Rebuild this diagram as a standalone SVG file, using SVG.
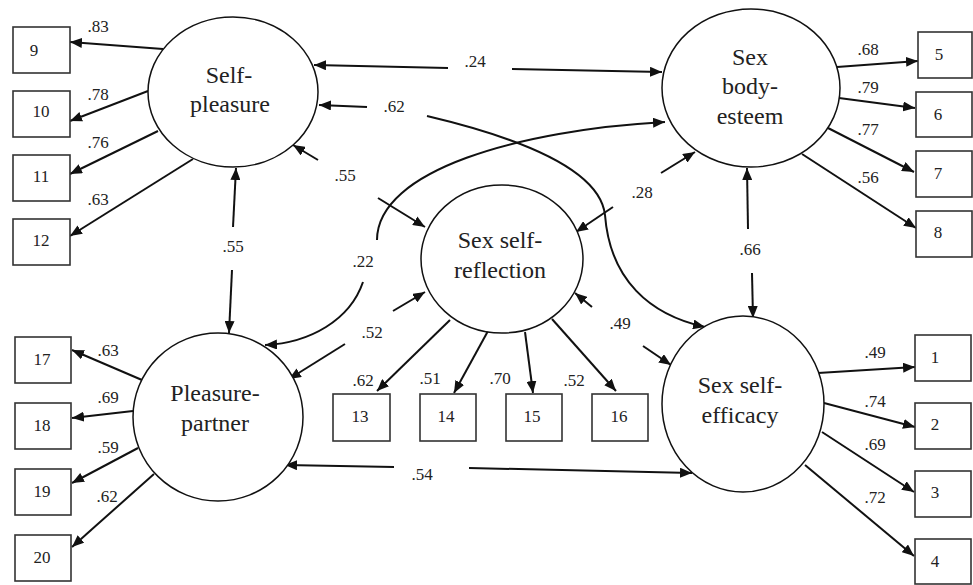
<svg xmlns="http://www.w3.org/2000/svg" width="973" height="585" viewBox="0 0 973 585">
<defs>
<marker id="ah" markerWidth="12" markerHeight="10" refX="12" refY="5" orient="auto" markerUnits="userSpaceOnUse"><path d="M0,0 L12,5 L0,10 z" fill="#111"/></marker>
</defs>
<rect width="973" height="585" fill="#fff"/>

<g id="connectors">
<g fill="none" stroke="#111" stroke-width="2" marker-end="url(#ah)">
<line x1="163" y1="49" x2="70" y2="42"/>
<line x1="148" y1="91" x2="70" y2="121"/>
<line x1="158" y1="131" x2="70" y2="174"/>
<line x1="193" y1="159" x2="70" y2="236"/>
<line x1="142" y1="380" x2="72" y2="350"/>
<line x1="133" y1="411" x2="72" y2="418"/>
<line x1="138" y1="448" x2="72" y2="483"/>
<line x1="154" y1="474" x2="72" y2="547"/>
<line x1="837" y1="67" x2="918" y2="61"/>
<line x1="839" y1="98" x2="915" y2="108"/>
<line x1="828" y1="128" x2="914" y2="172"/>
<line x1="802" y1="154" x2="916" y2="228"/>
<line x1="818" y1="373" x2="915" y2="367"/>
<line x1="824" y1="403" x2="915" y2="427"/>
<line x1="822" y1="432" x2="914" y2="492"/>
<line x1="805" y1="465" x2="914" y2="556"/>
<line x1="450" y1="320" x2="377" y2="391"/>
<line x1="488" y1="331" x2="454" y2="393"/>
<line x1="525" y1="332" x2="533" y2="393"/>
<line x1="552" y1="319" x2="616" y2="391"/>
<line x1="448" y1="68" x2="314" y2="65"/>
<line x1="512" y1="69" x2="662" y2="72"/>
<line x1="367" y1="107" x2="319" y2="105"/>
<path d="M427,116 C520,138 600,170 605,215 C610,280 650,315 705,327"/>
<line x1="233" y1="227" x2="236" y2="168"/>
<line x1="232" y1="270" x2="229" y2="333"/>
<line x1="318" y1="160" x2="293" y2="145"/>
<line x1="378" y1="198" x2="425" y2="227"/>
<path d="M377,240 C377,170 520,130 665,122"/>
<path d="M363,282 C350,320 310,343 265,345"/>
<line x1="345" y1="344" x2="289" y2="379"/>
<line x1="393" y1="311" x2="425" y2="292"/>
<line x1="661" y1="173" x2="695" y2="152"/>
<line x1="613" y1="207" x2="576" y2="232"/>
<line x1="748" y1="229" x2="747" y2="168"/>
<line x1="752" y1="273" x2="753" y2="318"/>
<line x1="592" y1="307" x2="575" y2="293"/>
<line x1="643" y1="346" x2="671" y2="365"/>
<line x1="394" y1="467" x2="285" y2="465"/>
<line x1="469" y1="468" x2="692" y2="473"/>
</g>
<g text-anchor="middle" fill="#222">
<text font-family="Liberation Serif" font-size="17" x="98" y="32">.83</text>
<text font-family="Liberation Serif" font-size="17" x="98" y="100">.78</text>
<text font-family="Liberation Serif" font-size="17" x="98" y="148">.76</text>
<text font-family="Liberation Serif" font-size="17" x="98" y="205">.63</text>
<text font-family="Liberation Serif" font-size="17" x="108" y="356">.63</text>
<text font-family="Liberation Serif" font-size="17" x="108" y="403">.69</text>
<text font-family="Liberation Serif" font-size="17" x="108" y="453">.59</text>
<text font-family="Liberation Serif" font-size="17" x="107" y="502">.62</text>
<text font-family="Liberation Serif" font-size="17" x="868" y="55">.68</text>
<text font-family="Liberation Serif" font-size="17" x="868" y="93">.79</text>
<text font-family="Liberation Serif" font-size="17" x="868" y="135">.77</text>
<text font-family="Liberation Serif" font-size="17" x="868" y="183">.56</text>
<text font-family="Liberation Serif" font-size="17" x="875" y="358">.49</text>
<text font-family="Liberation Serif" font-size="17" x="875" y="407">.74</text>
<text font-family="Liberation Serif" font-size="17" x="875" y="450">.69</text>
<text font-family="Liberation Serif" font-size="17" x="875" y="503">.72</text>
<text font-family="Liberation Serif" font-size="17" x="363" y="386">.62</text>
<text font-family="Liberation Serif" font-size="17" x="430" y="384">.51</text>
<text font-family="Liberation Serif" font-size="17" x="500" y="384">.70</text>
<text font-family="Liberation Serif" font-size="17" x="574" y="386">.52</text>
<text font-family="Liberation Serif" font-size="17" x="475" y="67">.24</text>
<text font-family="Liberation Serif" font-size="17" x="394" y="112">.62</text>
<text font-family="Liberation Serif" font-size="17" x="233" y="252">.55</text>
<text font-family="Liberation Serif" font-size="17" x="345" y="181">.55</text>
<text font-family="Liberation Serif" font-size="17" x="363" y="267">.22</text>
<text font-family="Liberation Serif" font-size="17" x="372" y="338">.52</text>
<text font-family="Liberation Serif" font-size="17" x="642" y="198">.28</text>
<text font-family="Liberation Serif" font-size="17" x="750" y="255">.66</text>
<text font-family="Liberation Serif" font-size="17" x="620" y="329">.49</text>
<text font-family="Liberation Serif" font-size="17" x="422" y="480">.54</text>
</g>
</g>

<g text-anchor="middle" fill="#222">
<g id="self-pleasure"><ellipse cx="233" cy="92" rx="85" ry="75" fill="#fff" stroke="#111" stroke-width="1.5"/><text font-family="Liberation Serif" font-size="24" x="229" y="83">Self-</text><text font-family="Liberation Serif" font-size="24" x="230" y="112">pleasure</text></g>
<g id="pleasure-partner"><ellipse cx="218" cy="417" rx="85" ry="84" fill="#fff" stroke="#111" stroke-width="1.5"/><text font-family="Liberation Serif" font-size="24" x="215" y="401">Pleasure-</text><text font-family="Liberation Serif" font-size="24" x="215" y="431">partner</text></g>
<g id="sex-self-reflection"><ellipse cx="502" cy="259" rx="81" ry="74" fill="#fff" stroke="#111" stroke-width="1.5"/><text font-family="Liberation Serif" font-size="24" x="500" y="248">Sex self-</text><text font-family="Liberation Serif" font-size="24" x="500" y="278">reflection</text></g>
<g id="sex-body-esteem"><ellipse cx="751" cy="88" rx="89" ry="79" fill="#fff" stroke="#111" stroke-width="1.5"/><text font-family="Liberation Serif" font-size="24" x="750" y="65">Sex</text><text font-family="Liberation Serif" font-size="24" x="750" y="94">body-</text><text font-family="Liberation Serif" font-size="24" x="750" y="124">esteem</text></g>
<g id="sex-self-efficacy"><ellipse cx="743" cy="404" rx="81" ry="88" fill="#fff" stroke="#111" stroke-width="1.5"/><text font-family="Liberation Serif" font-size="24" x="740" y="393">Sex self-</text><text font-family="Liberation Serif" font-size="24" x="740" y="423">efficacy</text></g>
</g>

<g text-anchor="middle" fill="#222">
<g id="i9"><rect x="13" y="27" width="57" height="46" fill="#fff" stroke="#333" stroke-width="1.6"/><text font-family="Liberation Serif" font-size="17" x="34" y="56">9</text></g>
<g id="i10"><rect x="13" y="91" width="57" height="46" fill="#fff" stroke="#333" stroke-width="1.6"/><text font-family="Liberation Serif" font-size="17" x="41" y="117">10</text></g>
<g id="i11"><rect x="13" y="155" width="57" height="46" fill="#fff" stroke="#333" stroke-width="1.6"/><text font-family="Liberation Serif" font-size="17" x="41" y="182">11</text></g>
<g id="i12"><rect x="13" y="219" width="57" height="46" fill="#fff" stroke="#333" stroke-width="1.6"/><text font-family="Liberation Serif" font-size="17" x="41" y="246">12</text></g>
<g id="i17"><rect x="15" y="337" width="56" height="46" fill="#fff" stroke="#333" stroke-width="1.6"/><text font-family="Liberation Serif" font-size="17" x="42" y="365">17</text></g>
<g id="i18"><rect x="15" y="403" width="56" height="46" fill="#fff" stroke="#333" stroke-width="1.6"/><text font-family="Liberation Serif" font-size="17" x="42" y="431">18</text></g>
<g id="i19"><rect x="15" y="469" width="56" height="46" fill="#fff" stroke="#333" stroke-width="1.6"/><text font-family="Liberation Serif" font-size="17" x="42" y="497">19</text></g>
<g id="i20"><rect x="15" y="535" width="56" height="46" fill="#fff" stroke="#333" stroke-width="1.6"/><text font-family="Liberation Serif" font-size="17" x="42" y="563">20</text></g>
<g id="i13"><rect x="333" y="394" width="57" height="47" fill="#fff" stroke="#333" stroke-width="1.6"/><text font-family="Liberation Serif" font-size="17" x="360" y="422">13</text></g>
<g id="i14"><rect x="420" y="394" width="56" height="47" fill="#fff" stroke="#333" stroke-width="1.6"/><text font-family="Liberation Serif" font-size="17" x="446" y="422">14</text></g>
<g id="i15"><rect x="506" y="394" width="56" height="47" fill="#fff" stroke="#333" stroke-width="1.6"/><text font-family="Liberation Serif" font-size="17" x="532" y="422">15</text></g>
<g id="i16"><rect x="592" y="394" width="56" height="47" fill="#fff" stroke="#333" stroke-width="1.6"/><text font-family="Liberation Serif" font-size="17" x="619" y="422">16</text></g>
<g id="i5"><rect x="918" y="32" width="54" height="46" fill="#fff" stroke="#333" stroke-width="1.6"/><text font-family="Liberation Serif" font-size="17" x="939" y="60">5</text></g>
<g id="i6"><rect x="916" y="92" width="56" height="45" fill="#fff" stroke="#333" stroke-width="1.6"/><text font-family="Liberation Serif" font-size="17" x="938" y="120">6</text></g>
<g id="i7"><rect x="916" y="151" width="56" height="46" fill="#fff" stroke="#333" stroke-width="1.6"/><text font-family="Liberation Serif" font-size="17" x="938" y="179">7</text></g>
<g id="i8"><rect x="916" y="211" width="56" height="46" fill="#fff" stroke="#333" stroke-width="1.6"/><text font-family="Liberation Serif" font-size="17" x="938" y="238">8</text></g>
<g id="i1"><rect x="915" y="335" width="56" height="46" fill="#fff" stroke="#333" stroke-width="1.6"/><text font-family="Liberation Serif" font-size="17" x="935" y="363">1</text></g>
<g id="i2"><rect x="915" y="403" width="56" height="46" fill="#fff" stroke="#333" stroke-width="1.6"/><text font-family="Liberation Serif" font-size="17" x="935" y="430">2</text></g>
<g id="i3"><rect x="915" y="471" width="56" height="46" fill="#fff" stroke="#333" stroke-width="1.6"/><text font-family="Liberation Serif" font-size="17" x="935" y="498">3</text></g>
<g id="i4"><rect x="915" y="539" width="56" height="45" fill="#fff" stroke="#333" stroke-width="1.6"/><text font-family="Liberation Serif" font-size="17" x="935" y="567">4</text></g>
</g>
</svg>
